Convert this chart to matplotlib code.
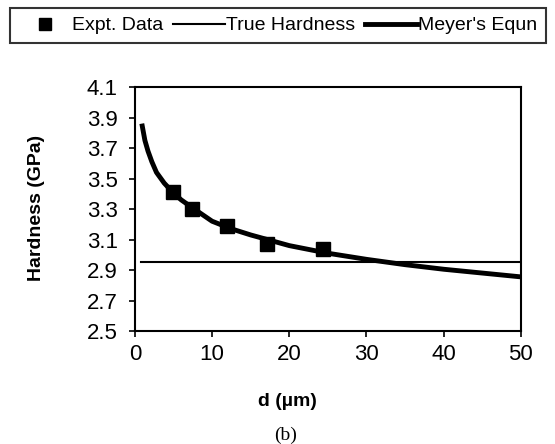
import matplotlib.pyplot as plt
from matplotlib.lines import Line2D

plt.rcParams["font.family"] = ["Liberation Sans", "DejaVu Sans"]

# experimental data points
expt_d = [4.9, 7.4, 11.9, 17.1, 24.4]
expt_h = [3.41, 3.30, 3.19, 3.07, 3.04]

# true hardness (constant)
true_d = [0.8, 50]
true_h = [2.95, 2.95]

# Meyer's equation fit
meyer_d = [0.9, 1.3, 1.7, 2.2, 2.8, 3.8, 4.9, 6.0, 7.4, 10, 12.5, 15, 20, 25, 30, 35, 40, 45, 50]
meyer_h = [3.86, 3.75, 3.68, 3.61, 3.54, 3.47, 3.41, 3.36, 3.31, 3.22, 3.17, 3.13,
           3.06, 3.01, 2.97, 2.935, 2.905, 2.88, 2.855]

yticks = [2.5, 2.7, 2.9, 3.1, 3.3, 3.5, 3.7, 3.9, 4.1]
xticks = [0, 10, 20, 30, 40, 50]

fig = plt.figure(figsize=(5.55, 4.44), dpi=100)
ax = fig.add_axes([0.243, 0.2545, 0.6955, 0.5495])

ax.plot(meyer_d, meyer_h, color="black", lw=3.5, solid_capstyle="butt", zorder=2)
ax.plot(true_d, true_h, color="black", lw=1.5, zorder=2)
ax.plot(expt_d, expt_h, "s", color="black", ms=9.5, zorder=3)

ax.set_xlim(0, 50)
ax.set_ylim(2.5, 4.1)
ax.set_xticks(xticks)
ax.set_yticks(yticks)
ax.set_yticklabels([f"{v:.1f}" for v in yticks])
ax.tick_params(direction="out", length=4.3, width=1.2, labelsize=16,
               top=False, right=False)
ax.tick_params(axis="y", pad=8)
ax.tick_params(axis="x", pad=5)
for s in ax.spines.values():
    s.set_linewidth(1.5)
    s.set_color("black")

ax.set_xlabel("d (µm)", fontsize=14, fontweight="bold")
ax.xaxis.set_label_coords(0.396, -0.254)
ax.set_ylabel("Hardness (GPa)", fontsize=14, fontweight="bold")
ax.yaxis.set_label_coords(-0.233, 0.504)

handles = [
    Line2D([], [], marker="s", ls="none", color="black", ms=8),
    Line2D([], [], color="black", lw=1.5),
    Line2D([], [], color="black", lw=3.5),
]
labels = ["Expt. Data", "True Hardness", "Meyer's Equn"]
leg = fig.legend(handles, labels, loc="upper left", bbox_to_anchor=(0.018, 0.982),
                 ncol=3, fontsize=14, frameon=True, fancybox=False,
                 handlelength=2.68, handletextpad=0.05, columnspacing=0.5,
                 borderpad=0.45, borderaxespad=0)
leg.get_frame().set_edgecolor("black")
leg.get_frame().set_linewidth(1.5)

fig.text(0.514, 0.02, "(b)", fontsize=14, family=["Liberation Serif", "DejaVu Serif"],
         ha="center", va="center")

fig.savefig("out.png", dpi=100)
